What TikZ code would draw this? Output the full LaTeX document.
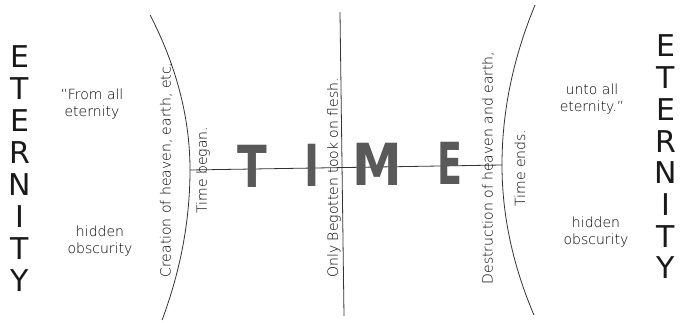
\documentclass[tikz,border=0pt]{standalone}
\usepackage{fontspec}
\setmainfont{DejaVu Sans ExtraLight}
\newfontfamily\heavyfont{DejaVu Sans Bold}
\newfontfamily\bookfont{DejaVu Sans}
\begin{document}
\begin{tikzpicture}[x=1pt,y=-1pt,
  lbl/.style={font=\fontsize{14}{17}\selectfont, text=black, inner sep=0pt, align=center},
  vlbl/.style={lbl, rotate=90},
  eterletter/.style={font=\bookfont\fontsize{30}{30}\selectfont, text=black!90, inner sep=0pt},
  timeletter/.style={font=\heavyfont\fontsize{58}{58}\selectfont, text=black!65, inner sep=0pt},
  rule/.style={draw=black!80, line width=0.8pt}]
\useasboundingbox (0,0) rectangle (681,322);
% arcs
\draw[rule] plot[domain=15:170, samples=40] ({190-0.166*((\x-170)/10)^2}, \x)
  -- plot[domain=170:320, samples=40] ({190-0.124*((\x-170)/10)^2}, \x);
\draw[rule] plot[domain=5:165, samples=40] ({502+0.129*((\x-165)/10)^2}, \x)
  -- plot[domain=165:315, samples=40] ({502+0.142*((\x-165)/10)^2}, \x);
\coordinate (L) at (190,170);
\coordinate (R) at (502,165);
\coordinate (vt) at (340,12);
\coordinate (vb) at (344,316);
\draw[rule] (L) -- (R);
\draw[rule] (vt) -- (vb);
% TIME
\node[timeletter, xscale=0.75] (t1) at (252,166) {T};
\node[timeletter, xscale=0.7] (t2) at (312,165) {I};
\node[timeletter, xscale=0.86] (t3) at (377,164) {M};
\node[timeletter, xscale=0.63] (t4) at (450,163) {E};
% ETERNITY left
\foreach \l [count=\i] in {E,T,E,R,N,I,T,Y} {
  \node[eterletter] (el\i) at (20,{57+32*(\i-1)}) {\l};
}
% ETERNITY right
\foreach \l [count=\i] in {E,T,E,R,N,I,T,Y} {
  \node[eterletter] (er\i) at (666,{46+31.7*(\i-1)}) {\l};
}
% side texts
\node[lbl] (from) at (92,104) {”From all\\eternity};
\node[lbl] (unto) at (592,99) {unto all\\eternity.”};
\node[lbl] (hidl) at (100,241) {hidden\\obscurity};
\node[lbl] (hidr) at (596,232) {hidden\\obscurity};
% vertical texts
\node[vlbl] (cre) at (166,170) {Creation of heaven, earth, etc,};
\node[vlbl] (beg) at (203,170) {Time began.};
\node[vlbl] (only) at (334,178) {Only Begotten took on flesh.};
\node[vlbl] (des) at (488,168) {Destruction of heaven and earth,};
\node[vlbl] (end) at (520,168) {Time ends.};
\end{tikzpicture}
\end{document}
